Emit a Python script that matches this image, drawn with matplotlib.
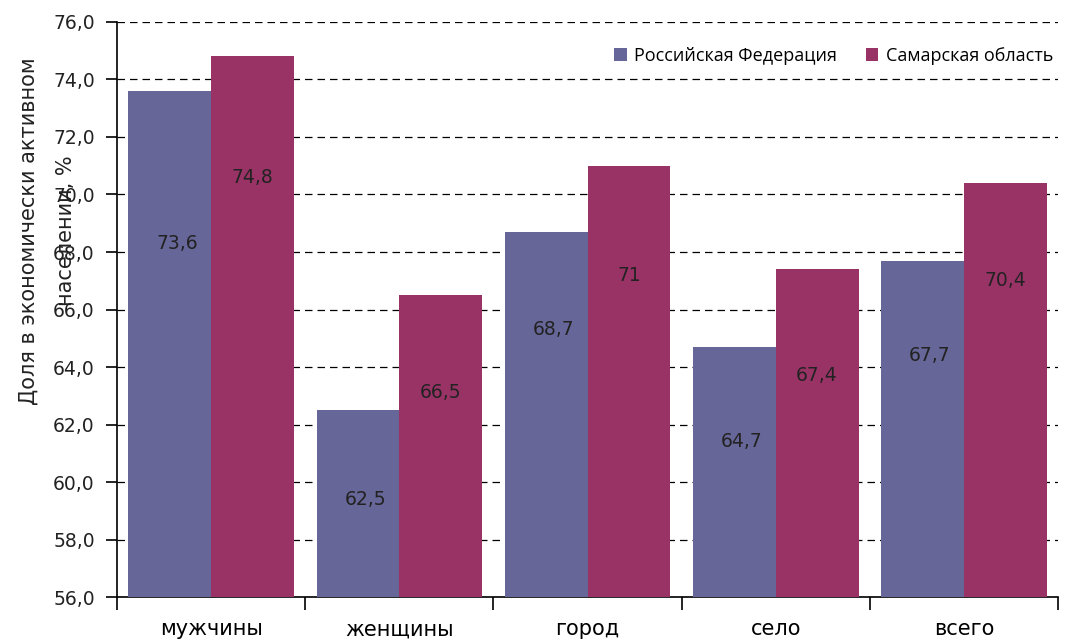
import numpy as np
import matplotlib
matplotlib.use('Agg')
from matplotlib import pyplot as plt
from matplotlib.ticker import FuncFormatter

categories = ['мужчины', 'женщины', 'город', 'село', 'всего']
rf = [73.6, 62.5, 68.7, 64.7, 67.7]        # Российская Федерация
samara = [74.8, 66.5, 71.0, 67.4, 70.4]    # Самарская область
rf_labels = ['73,6', '62,5', '68,7', '64,7', '67,7']
samara_labels = ['74,8', '66,5', '71', '67,4', '70,4']

plt.rcParams['font.family'] = ['DejaVu Sans']

fig = plt.figure(figsize=(10.66, 6.41), dpi=100)
ax = fig.add_axes([0.1098, 0.0686, 0.8827, 0.8971])

x = np.arange(len(categories))
w = 0.44
c_rf = '#666699'
c_sm = '#993366'
ax.bar(x - w/2, rf, w, color=c_rf, label='Российская Федерация', zorder=3)
ax.bar(x + w/2, samara, w, color=c_sm, label='Самарская область', zorder=3)

ax.set_ylim(56, 76)
ax.set_xlim(-0.5, len(categories) - 0.5)
ax.set_yticks(np.arange(56, 76.1, 2))
ax.yaxis.set_major_formatter(FuncFormatter(lambda v, p: f'{v:.1f}'.replace('.', ',')))
ax.tick_params(axis='y', labelsize=13.5, direction='out', length=8, width=1.2, pad=8,
               labelcolor='#222222')
ax.yaxis.grid(True, linestyle=(0, (6, 4)), color='black', linewidth=0.9, zorder=0)

# label positions inside bars (Excel-like)
rf_off = [5.3, 3.1, 3.4, 3.3, 3.3]
sm_off = [4.2, 3.4, 3.8, 3.7, 3.4]
for i in range(len(categories)):
    ax.text(x[i] - w/2 + 0.04, rf[i] - rf_off[i], rf_labels[i], ha='center', va='center',
            fontsize=13.5, zorder=4, color='#222222')
    ax.text(x[i] + w/2, samara[i] - sm_off[i], samara_labels[i], ha='center', va='center',
            fontsize=13.5, zorder=4, color='#222222')

ax.set_xticks(np.arange(-0.5, len(categories)), minor=False)
ax.set_xticklabels([])
ax.set_xticks(x, minor=True)
ax.set_xticklabels(categories, minor=True, fontsize=15,
                   family=['Liberation Sans Narrow', 'DejaVu Sans'])
ax.tick_params(axis='x', which='major', direction='out', length=9, width=1.2)
ax.tick_params(axis='x', which='minor', length=0, pad=16)

for s in ['top', 'right']:
    ax.spines[s].set_visible(False)
ax.spines['left'].set_linewidth(1.2)
ax.spines['bottom'].set_linewidth(1.2)

fig.text(0.027, 0.64, 'Доля в экономически активном', rotation=90,
         ha='center', va='center', fontsize=15, color='#222222')
fig.text(0.062, 0.64, 'населении, %', rotation=90,
         ha='center', va='center', fontsize=15, color='#222222')

leg = ax.legend(loc='upper right', bbox_to_anchor=(1.012, 0.985), ncol=2, frameon=False,
                handlelength=0.7, handleheight=0.7, handletextpad=0.4,
                columnspacing=1.6, prop={'family': ['Open Sans', 'DejaVu Sans'], 'size': 13})

fig.savefig('out.png', dpi=100)
